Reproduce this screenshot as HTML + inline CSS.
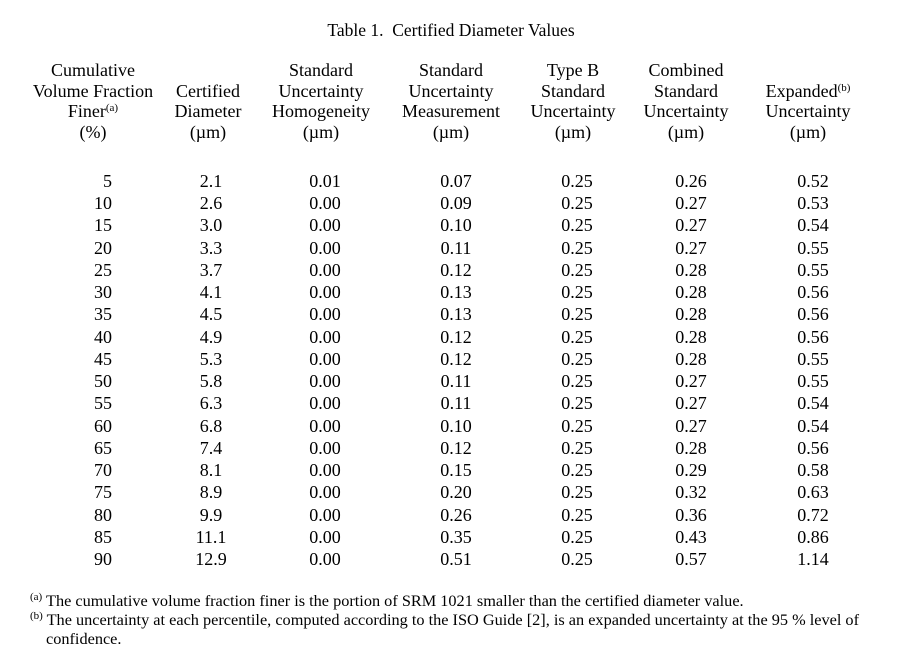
<!DOCTYPE html>
<html><head><meta charset="utf-8"><style>
body{margin:0;background:#fff;width:902px;height:661px;position:relative;overflow:hidden;font-family:"Liberation Serif",serif;color:#000}
.t{position:absolute;font-size:18px;line-height:20px;white-space:nowrap}
.c{transform:translateX(-50%);text-align:center}
.r{transform:translateX(-100%)}
.f{position:absolute;font-size:16.3px;white-space:nowrap;line-height:18px}
sup{font-size:11px;line-height:0;vertical-align:6px}
</style></head><body>
<div class="t c" style="left:451px;top:20px;font-size:17.5px">Table 1.&nbsp; Certified Diameter Values</div>
<div id="h"></div>
<div id="d"></div>
<div class="f" style="left:30px;top:592px"><sup>(a)</sup> The cumulative volume fraction finer is the portion of SRM 1021 smaller than the certified diameter value.</div>
<div class="f" style="left:30px;top:611px"><sup>(b)</sup> The uncertainty at each percentile, computed according to the ISO Guide [2], is an expanded uncertainty at the 95 % level of</div>
<div class="f" style="left:46px;top:630px">confidence.</div>
<script>
var hx=[93,208,321,451,573,686,808];
var H=[["Cumulative","Volume Fraction","Finer<sup>(a)</sup>","(%)"],["","Certified","Diameter","(µm)"],["Standard","Uncertainty","Homogeneity","(µm)"],["Standard","Uncertainty","Measurement","(µm)"],["Type B","Standard","Uncertainty","(µm)"],["Combined","Standard","Uncertainty","(µm)"],["","Expanded<sup>(b)</sup>","Uncertainty","(µm)"]];
var s="";
H.forEach(function(col,i){col.forEach(function(t,j){if(t)s+='<div class="t c" style="left:'+hx[i]+'px;top:'+(60+j*20.5)+'px">'+t+'</div>';});});
var D=`5 2.1 0.01 0.07 0.25 0.26 0.52
10 2.6 0.00 0.09 0.25 0.27 0.53
15 3.0 0.00 0.10 0.25 0.27 0.54
20 3.3 0.00 0.11 0.25 0.27 0.55
25 3.7 0.00 0.12 0.25 0.28 0.55
30 4.1 0.00 0.13 0.25 0.28 0.56
35 4.5 0.00 0.13 0.25 0.28 0.56
40 4.9 0.00 0.12 0.25 0.28 0.56
45 5.3 0.00 0.12 0.25 0.28 0.55
50 5.8 0.00 0.11 0.25 0.27 0.55
55 6.3 0.00 0.11 0.25 0.27 0.54
60 6.8 0.00 0.10 0.25 0.27 0.54
65 7.4 0.00 0.12 0.25 0.28 0.56
70 8.1 0.00 0.15 0.25 0.29 0.58
75 8.9 0.00 0.20 0.25 0.32 0.63
80 9.9 0.00 0.26 0.25 0.36 0.72
85 11.1 0.00 0.35 0.25 0.43 0.86
90 12.9 0.00 0.51 0.25 0.57 1.14`.split("\n");
var dx=[112,211,325,456,577,691,813];
D.forEach(function(l,r){var v=l.split(" ");var y=171+r*22.24;v.forEach(function(t,i){s+='<div class="t '+(i==0?'r':'c')+'" style="left:'+dx[i]+'px;top:'+y+'px">'+t+'</div>';});});
document.getElementById("d").innerHTML=s;
</script>
</body></html>
